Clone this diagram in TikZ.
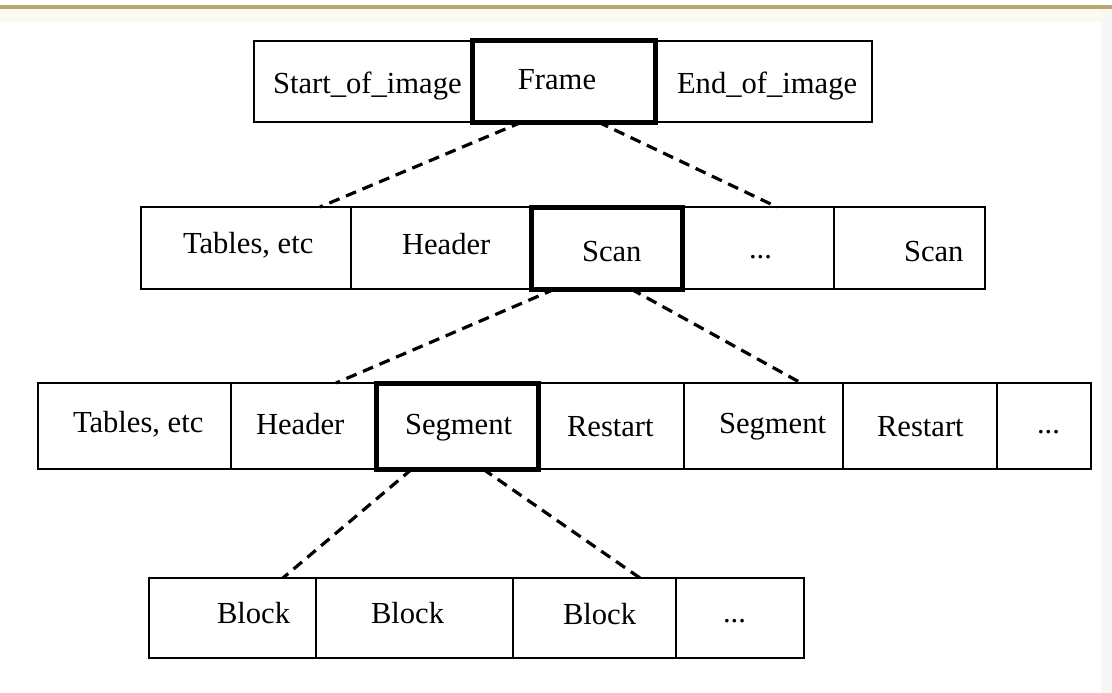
\documentclass[tikz,border=0pt]{standalone}
\usepackage{fontspec}
\setmainfont{Liberation Serif}
\usetikzlibrary{calc}
\definecolor{goldline}{RGB}{186,166,112}
\definecolor{paleband}{RGB}{252,250,240}
\definecolor{greyedge}{RGB}{247,247,247}
\begin{document}
\begin{tikzpicture}[x=1pt,y=-1pt,
  cell/.style={draw, line width=2.2pt, inner sep=0pt, outer sep=0pt, anchor=north west},
  keycell/.style={cell, line width=5pt},
  lbl/.style={anchor=base west, inner sep=0pt, outer sep=0pt, font=\fontsize{30.6}{36}\selectfont},
  link/.style={line width=3.2pt, dash pattern=on 11pt off 7pt}]
\useasboundingbox[fill=white] (0,0) rectangle (1112,693);
\fill[paleband] (0,8) rectangle (1112,22);
\fill[greyedge] (1101,8) rectangle (1112,693);
\draw[goldline, line width=3.5pt] (0,7) -- (1112,7);

% row 1
\node[cell, minimum width=218pt, minimum height=81pt] (soi) at (254,41) {};
\node[cell, minimum width=217pt, minimum height=81pt] (eoi) at (655,41) {};
\node[keycell, minimum width=183pt, minimum height=81pt] (frame) at (472,41) {};
\node[lbl] (lsoi) at (273,94) {Start\_of\_image};
\node[lbl, anchor=base] (lframe) at (557,90) {Frame};
\node[lbl] (leoi) at (677,93) {End\_of\_image};

% row 2
\node[cell, minimum width=210pt, minimum height=82pt] (t2) at (141,207) {};
\node[cell, minimum width=180pt, minimum height=82pt] (h2) at (351,207) {};
\node[cell, minimum width=152pt, minimum height=82pt] (d2) at (682,207) {};
\node[cell, minimum width=151pt, minimum height=82pt] (s2b) at (834,207) {};
\node[keycell, minimum width=151pt, minimum height=82pt] (scan) at (531,207) {};
\node[lbl] (lt2) at (183,253) {Tables, etc};
\node[lbl] (lh2) at (402,254) {Header};
\node[lbl] (lscan) at (582,261) {Scan};
\node[lbl] (ld2) at (749,258) {...};
\node[lbl] (ls2b) at (904,261) {Scan};

% row 3
\node[cell, minimum width=193pt, minimum height=86pt] (t3) at (38,383) {};
\node[cell, minimum width=145pt, minimum height=86pt] (h3) at (231,383) {};
\node[cell, minimum width=146pt, minimum height=86pt] (r3) at (538,383) {};
\node[cell, minimum width=159pt, minimum height=86pt] (g3b) at (684,383) {};
\node[cell, minimum width=154pt, minimum height=86pt] (r3b) at (843,383) {};
\node[cell, minimum width=94pt, minimum height=86pt] (d3) at (997,383) {};
\node[keycell, minimum width=162pt, minimum height=86pt] (seg) at (376,383) {};
\node[lbl] (lt3) at (73,432) {Tables, etc};
\node[lbl] (lh3) at (256,434) {Header};
\node[lbl] (lseg) at (405,434) {Segment};
\node[lbl] (lr3) at (567,436) {Restart};
\node[lbl] (lg3b) at (719,433) {Segment};
\node[lbl] (lr3b) at (877,436) {Restart};
\node[lbl] (ld3) at (1037,433) {...};

% row 4
\node[cell, minimum width=167pt, minimum height=80pt] (b1) at (149,578) {};
\node[cell, minimum width=197pt, minimum height=80pt] (b2) at (316,578) {};
\node[cell, minimum width=163pt, minimum height=80pt] (b3) at (513,578) {};
\node[cell, minimum width=128pt, minimum height=80pt] (d4) at (676,578) {};
\node[lbl] (lb1) at (217,623) {Block};
\node[lbl] (lb2) at (371,623) {Block};
\node[lbl] (lb3) at (563,624) {Block};
\node[lbl] (ld4) at (723,622) {...};

% dashed connectors
\draw[link] ($(frame.south west)!0.273!(frame.south east)$) -- ($(t2.north west)!0.852!(t2.north east)$);
\draw[link] ($(frame.south west)!0.689!(frame.south east)$) -- ($(d2.north west)!0.625!(d2.north east)$);
\draw[link] ($(scan.south west)!0.159!(scan.south east)$) -- ($(h3.north west)!0.724!(h3.north east)$);
\draw[link] ($(scan.south west)!0.662!(scan.south east)$) -- ($(g3b.north west)!0.736!(g3b.north east)$);
\draw[link] ($(seg.south west)!0.222!(seg.south east)$) -- ($(b1.north west)!0.802!(b1.north east)$);
\draw[link] ($(seg.south west)!0.66!(seg.south east)$) -- ($(b3.north west)!0.779!(b3.north east)$);
\end{tikzpicture}
\end{document}
